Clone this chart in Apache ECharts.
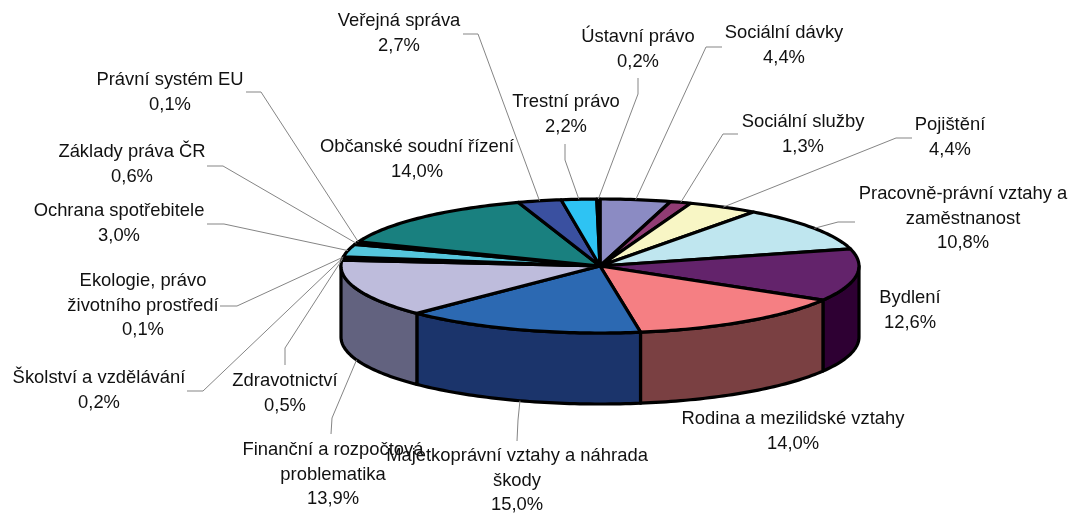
<!DOCTYPE html>
<html>
<head>
<meta charset="utf-8">
<script src="https://cdn.jsdelivr.net/npm/echarts@6/dist/echarts.min.js"></script>
<style>
  html, body { margin: 0; padding: 0; background: #fff; }
  #chart { width: 1071px; height: 514px; }
</style>
</head>
<body>
<div id="chart"></div>
<script>
// clockwise from 12 o'clock
var categories = [
  "Sociální dávky", "Sociální služby", "Pojištění",
  "Pracovně-právní vztahy a\nzaměstnanost", "Bydlení", "Rodina a mezilidské vztahy",
  "Majetkoprávní vztahy a náhrada\nškody", "Finanční a rozpočtová\nproblematika",
  "Zdravotnictví", "Školství a vzdělávání", "Ekologie, právo\nživotního prostředí",
  "Ochrana spotřebitele", "Základy práva ČR", "Právní systém EU",
  "Občanské soudní řízení", "Veřejná správa", "Trestní právo", "Ústavní právo"
];
var shares = [4.4, 1.3, 4.4, 10.8, 12.6, 14.0, 15.0, 13.9, 0.5, 0.2, 0.1, 3.0, 0.6, 0.1, 14.0, 2.7, 2.2, 0.2];

var topColors = [
  "#8b8bc3", "#913c74", "#f8f6c5", "#bfe6ef", "#63236b", "#f57f83",
  "#2c69b2", "#bebcdc", "#3c3c6c", "#1c3a6c", "#7a4042", "#55c6dc",
  "#3c3c6c", "#1c3a6c", "#19807f", "#3a50a0", "#2ec3f3", "#2a7a70"
];
var sideColors = [
  "#55557a", "#5a2548", "#99977a", "#768e94", "#2e0033", "#7a4042",
  "#1b346b", "#62627f", "#25253f", "#112340", "#4b2729", "#347a88",
  "#25253f", "#112340", "#0f4f4e", "#243163", "#1c7896", "#1a4b45"
];

// label layout: text centre, first text row, leader elbow and end
var labelLayout = [
  { x: 784, y: 33,  leader: [[706, 47], [722, 47]] },
  { x: 803, y: 122, leader: [[723, 134], [738, 134]] },
  { x: 950, y: 125, leader: [[896, 138], [912, 138]] },
  { x: 963, y: 194, leader: [[838, 222], [855, 222]] },
  { x: 910, y: 298 },
  { x: 793, y: 419 },
  { x: 517, y: 456, leader: [[518, 420], [517, 441]] },
  { x: 333, y: 450, leader: [[332, 418], [331, 434]] },
  { x: 285, y: 381, leader: [[285, 348], [285, 365]] },
  { x: 99,  y: 378, leader: [[203, 391], [187, 391]] },
  { x: 143, y: 281, leader: [[237, 306], [220, 306]] },
  { x: 119, y: 211, leader: [[224, 224], [207, 224]] },
  { x: 132, y: 152, leader: [[223, 166], [207, 166]] },
  { x: 170, y: 80,  leader: [[261, 92], [246, 92]] },
  { x: 417, y: 147 },
  { x: 399, y: 21,  leader: [[478, 34], [463, 34]] },
  { x: 566, y: 102, leader: [[565, 160], [565, 144]] },
  { x: 638, y: 37,  leader: [[638, 94], [638, 78]] }
];

var cx = 600, cy = 266, rx = 259, ry = 67, depth = 71;
var rowHeight = 24.5;
var total = shares.reduce(function (a, b) { return a + b; }, 0);

function toAngle(v) { return v / total * Math.PI * 2; }
function rim(a, drop) {
  return [cx + rx * Math.sin(a), cy - ry * Math.cos(a) + (drop || 0)];
}
function arc(a0, a1, drop) {
  var pts = [];
  var n = Math.max(2, Math.ceil((a1 - a0) / 0.02));
  for (var i = 0; i <= n; i++) pts.push(rim(a0 + (a1 - a0) * i / n, drop));
  return pts;
}
function formatShare(v) { return v.toFixed(1).replace(".", ",") + "%"; }

var running = 0;
var sliceData = shares.map(function (v) {
  var item = [v, running];
  running += v;
  return item;
});

function renderSide(params, api) {
  var a0 = Math.max(toAngle(api.value(1)), Math.PI / 2);
  var a1 = Math.min(toAngle(api.value(1) + api.value(0)), Math.PI * 1.5);
  if (a1 <= a0) return null;
  return {
    type: "polygon",
    shape: { points: arc(a0, a1, 0).concat(arc(a0, a1, depth).reverse()) },
    style: { fill: sideColors[params.dataIndex], stroke: "#000", lineWidth: 3.2, lineJoin: "round" }
  };
}

function renderTop(params, api) {
  var a0 = toAngle(api.value(1));
  var a1 = toAngle(api.value(1) + api.value(0));
  return {
    type: "polygon",
    shape: { points: [[cx, cy]].concat(arc(a0, a1, 0)) },
    style: { fill: topColors[params.dataIndex], stroke: "#000", lineWidth: 3.2, lineJoin: "round" }
  };
}

function renderLabel(params, api) {
  var i = params.dataIndex;
  var layout = labelLayout[i];
  var children = [];
  if (layout.leader) {
    var mid = toAngle(api.value(1) + api.value(0) / 2);
    var front = Math.cos(mid) < -0.15;
    var start = rim(mid, front ? depth : 0);
    children.push({
      type: "polyline",
      shape: { points: [start].concat(layout.leader) },
      style: { fill: "none", stroke: "#858585", lineWidth: 1 }
    });
  }
  children.push({
    type: "text",
    style: {
      x: layout.x,
      y: layout.y - rowHeight / 2,
      text: categories[i] + "\n" + formatShare(api.value(0)),
      font: "18.4px 'Liberation Sans', Arial, sans-serif",
      lineHeight: rowHeight,
      fill: "#111",
      align: "center",
      verticalAlign: "top"
    }
  });
  return { type: "group", children: children };
}

var chart = echarts.init(document.getElementById("chart"), null, { renderer: "canvas" });
chart.setOption({
  backgroundColor: "#fff",
  animation: false,
  series: [
    { type: "custom", coordinateSystem: "none", silent: true, z: 1, data: sliceData, renderItem: renderSide },
    { type: "custom", coordinateSystem: "none", silent: true, z: 2, data: sliceData, renderItem: renderTop },
    { type: "custom", coordinateSystem: "none", silent: true, z: 3, data: sliceData, renderItem: renderLabel }
  ]
});
</script>
</body>
</html>
